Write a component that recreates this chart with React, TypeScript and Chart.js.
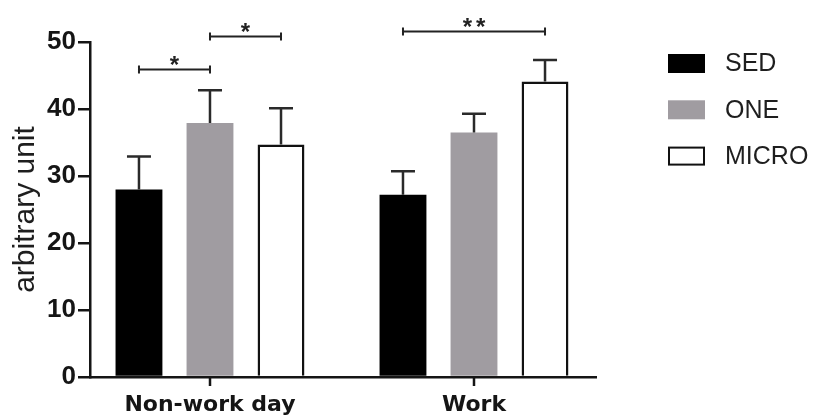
import { useEffect, useRef } from 'react';
import { Chart, registerables } from 'chart.js';

Chart.register(...registerables);

// ---- data ----
const categories = ['Non-work day', 'Work'];
const seriesNames = ['SED', 'ONE', 'MICRO'];
const sedMeans = [28.0, 27.2];
const oneMeans = [37.9, 36.5];
const microMeans = [34.7, 44.1];
const sedErr = [4.9, 3.5];
const oneErr = [4.9, 2.8];
const microErr = [5.4, 3.2];
const yTickValues = [0, 10, 20, 30, 40, 50];
const yTitle = 'arbitrary unit';
// significance brackets: category index, from series, to series, height (y units), label
const bracketCats = [0, 0, 1];
const bracketFrom = [0, 1, 0];
const bracketTo = [1, 2, 2];
const bracketY = [45.9, 50.9, 51.6];
const bracketLabels = ['*', '*', '**'];

// ---- styles ----
const fills = ['#000000', '#a09ca1', '#ffffff'];
const borders = ['#000000', '#a09ca1', '#111111'];
const borderWidths = [0, 0, 2.5];
const INK = '#151515';

const errorBarPlugin = {
  id: 'errorBars',
  afterDatasetsDraw(chart: any) {
    const ctx = chart.ctx;
    const ys = chart.scales.y;
    chart.data.datasets.forEach((ds: any, di: number) => {
      const meta = chart.getDatasetMeta(di);
      meta.data.forEach((bar: any, i: number) => {
        const v = ds.data[i].y + ds.errors[i];
        const yp = ys.getPixelForValue(v);
        ctx.save();
        ctx.strokeStyle = '#2a2a2a';
        ctx.lineWidth = 2.5;
        ctx.beginPath();
        ctx.moveTo(bar.x, bar.y);
        ctx.lineTo(bar.x, yp);
        ctx.moveTo(bar.x - 12, yp);
        ctx.lineTo(bar.x + 12, yp);
        ctx.stroke();
        ctx.restore();
      });
    });
  },
};

const bracketPlugin = {
  id: 'brackets',
  afterDraw(chart: any) {
    const ctx = chart.ctx;
    const ys = chart.scales.y;
    bracketCats.forEach((cat, k) => {
      const x1 = chart.getDatasetMeta(bracketFrom[k]).data[cat].x;
      const x2 = chart.getDatasetMeta(bracketTo[k]).data[cat].x;
      const y = Math.round(ys.getPixelForValue(bracketY[k])) + 0.5;
      ctx.save();
      ctx.strokeStyle = '#222';
      ctx.lineWidth = 2;
      ctx.beginPath();
      ctx.moveTo(x1, y);
      ctx.lineTo(x2, y);
      ctx.moveTo(x1, y - 4);
      ctx.lineTo(x1, y + 4);
      ctx.moveTo(x2, y - 4);
      ctx.lineTo(x2, y + 4);
      ctx.stroke();
      ctx.fillStyle = '#222';
      ctx.font = 'bold 24px "Liberation Sans", Arial, sans-serif';
      ctx.textAlign = 'center';
      ctx.textBaseline = 'alphabetic';
      (ctx as any).letterSpacing = bracketLabels[k].length > 1 ? '4px' : '0px';
      ctx.fillText(bracketLabels[k], (x1 + x2) / 2 + (bracketLabels[k].length > 1 ? 2 : 0), y + 3);
      ctx.restore();
    });
  },
};

// category tick marks below the x axis, placed by the x scale
const xTickMarkPlugin = {
  id: 'xTickMarks',
  afterDraw(chart: any) {
    const ctx = chart.ctx;
    const xs = chart.scales.x;
    const bottom = chart.chartArea.bottom;
    ctx.save();
    ctx.strokeStyle = INK;
    ctx.lineWidth = 2.5;
    ctx.beginPath();
    categories.forEach((_, i) => {
      const px = Math.round(xs.getPixelForValue(i));
      ctx.moveTo(px, bottom);
      ctx.lineTo(px, bottom + 9);
    });
    ctx.stroke();
    ctx.restore();
  },
};

const legendPlugin = {
  id: 'customLegend',
  afterDraw(chart: any) {
    const ctx = chart.ctx;
    const x0 = 668;
    const y0 = 63.5;
    const step = 46.3;
    chart.data.datasets.forEach((ds: any, i: number) => {
      const cy = y0 + i * step;
      ctx.save();
      ctx.fillStyle = ds.backgroundColor;
      ctx.fillRect(x0, cy - 9.5, 37, 19);
      if (ds.borderWidth > 0) {
        ctx.strokeStyle = ds.borderColor;
        ctx.lineWidth = 2;
        ctx.strokeRect(x0 + 1, cy - 8.5, 35, 17);
      }
      ctx.fillStyle = '#1e1e1e';
      ctx.font = '25px "Liberation Sans", Arial, sans-serif';
      ctx.textAlign = 'left';
      ctx.textBaseline = 'middle';
      ctx.fillText(ds.label, 725, cy + 1);
      ctx.restore();
    });
  },
};

export default function App() {
  const ref = useRef<HTMLCanvasElement>(null);

  useEffect(() => {
    if (!ref.current) return;
    const means = [sedMeans, oneMeans, microMeans];
    const errs = [sedErr, oneErr, microErr];
    const chart = new Chart(ref.current, {
      type: 'bar',
      data: {
        datasets: seriesNames.map((name, s) => ({
          label: name,
          data: categories.map((_, i) => ({ x: i, y: means[s][i] })),
          errors: errs[s],
          backgroundColor: fills[s],
          borderColor: borders[s],
          borderWidth: borderWidths[s],
          categoryPercentage: 0.807,
          barPercentage: 0.66,
        })) as any,
      },
      options: {
        responsive: false,
        animation: false,
        events: [],
        layout: { padding: { top: 42, right: 217, left: 0, bottom: 0 } },
        plugins: { legend: { display: false }, tooltip: { enabled: false } },
        scales: {
          x: {
            type: 'linear',
            min: -0.4545,
            max: 1.4621,
            offset: false,
            afterBuildTicks: (scale: any) => {
              scale.ticks = categories.map((_, i) => ({ value: i }));
            },
            afterFit: (scale: any) => {
              scale.height = 41;
            },
            grid: {
              display: false,
              offset: false,
              drawOnChartArea: false,
              drawTicks: false,
            },
            border: { display: true, color: INK, width: 2.5 },
            ticks: {
              autoSkip: false,
              maxRotation: 0,
              padding: 15,
              color: INK,
              font: { family: '"DejaVu Sans"', size: 22, weight: 'bold' },
              callback: (v: any) => categories[Math.round(Number(v))] ?? '',
            },
          },
          y: {
            min: 0,
            max: 50,
            afterBuildTicks: (scale: any) => {
              scale.ticks = yTickValues.map((v) => ({ value: v }));
            },
            afterFit: (scale: any) => {
              scale.width = 90;
            },
            grid: {
              drawOnChartArea: false,
              drawTicks: true,
              tickLength: 12,
              color: INK,
              lineWidth: 2.5,
            },
            border: { display: true, color: INK, width: 2.5 },
            ticks: {
              padding: 2,
              color: INK,
              font: { family: '"Liberation Sans"', size: 26, weight: 'bold' },
            },
            title: {
              display: true,
              text: yTitle,
              color: '#1e1e1e',
              font: { family: '"Liberation Sans"', size: 30 },
              padding: { top: 8, bottom: 0 },
            },
          },
        },
      } as any,
      plugins: [errorBarPlugin, bracketPlugin, xTickMarkPlugin, legendPlugin],
    });
    return () => chart.destroy();
  }, []);

  return (
    <div style={{ position: 'fixed', left: 0, top: 0, width: 813, height: 418, background: '#fff' }}>
      <canvas ref={ref} width={813} height={418} style={{ display: 'block' }} />
    </div>
  );
}
